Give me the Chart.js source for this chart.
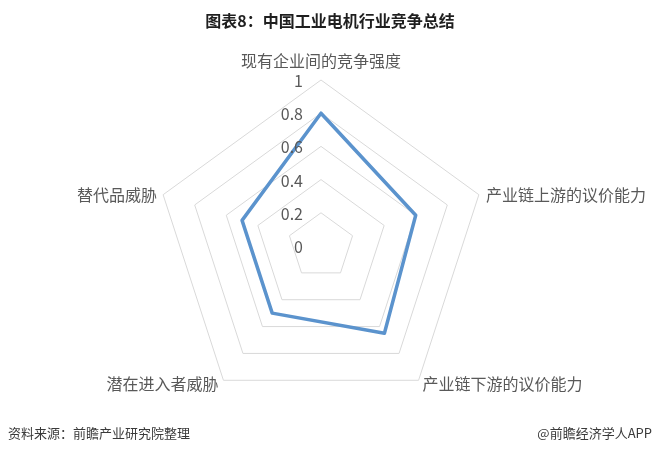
<!DOCTYPE html>
<html>
<head>
<meta charset="utf-8">
<script src="https://cdn.jsdelivr.net/npm/chart.js@4"></script>
<style>
  html, body { margin: 0; padding: 0; background: #ffffff; }
  #wrap { position: relative; width: 660px; height: 453px; overflow: hidden; background: #fff; }
  #c { position: absolute; left: 0; top: 0; }
  .t { position: absolute; white-space: nowrap; font-family: "Noto Sans CJK SC", "Noto Sans", sans-serif; }
  #title { left: 0; width: 660px; top: 9px; text-align: center; font-size: 16px; font-weight: bold; color: #1f1f1f; line-height: 22px; }
  #src { left: 8px; top: 424px; font-size: 13px; color: #3a3a3a; line-height: 18px; }
  #app { right: 8px; top: 424px; font-size: 13px; color: #3a3a3a; line-height: 18px; }
</style>
</head>
<body>
<div id="wrap">
  <canvas id="c" width="660" height="453"></canvas>
  <div class="t" id="title">图表8：中国工业电机行业竞争总结</div>
  <div class="t" id="src">资料来源：前瞻产业研究院整理</div>
  <div class="t" id="app">@前瞻经济学人APP</div>
</div>
<script>
const categories = ["现有企业间的竞争强度", "产业链上游的议价能力", "产业链下游的议价能力", "潜在进入者威胁", "替代品威胁"];
const seriesValues = [0.8, 0.6, 0.65, 0.5, 0.5];
const tickLabels = ["0", "0.2", "0.4", "0.6", "0.8", "1"];

const FONT = '"Noto Sans CJK SC", "Noto Sans", sans-serif';

const labelPlugin = {
  id: 'customLabels',
  afterDraw(chart) {
    const s = chart.scales.r;
    const ctx = chart.ctx;
    ctx.save();
    ctx.fillStyle = '#595959';
    // tick labels, left of the vertical axis
    ctx.font = '16px ' + FONT;
    ctx.textAlign = 'right';
    ctx.textBaseline = 'middle';
    s.ticks.forEach((t, i) => {
      const d = s.getDistanceFromCenterForValue(t.value);
      ctx.fillText(tickLabels[i] !== undefined ? tickLabels[i] : t.label, s.xCenter - 18, s.yCenter - d + 1);
    });
    // point (category) labels
    const place = [
      { dx: 0, dy: -19, align: 'center' },
      { dx: 7, dy: 0, align: 'left' },
      { dx: 4, dy: 4, align: 'left' },
      { dx: -5, dy: 4, align: 'right' },
      { dx: -6, dy: 0, align: 'right' }
    ];
    categories.forEach((lab, i) => {
      const p = s.getPointPosition(i, s.drawingArea);
      const o = place[i];
      ctx.textAlign = o.align;
      ctx.textBaseline = 'middle';
      ctx.fillText(lab, p.x + o.dx, p.y + o.dy);
    });
    ctx.restore();
  }
};

new Chart(document.getElementById('c'), {
  type: 'radar',
  data: {
    labels: categories,
    datasets: [{
      data: seriesValues,
      borderColor: '#5B93CD',
      borderWidth: 3.5,
      backgroundColor: 'rgba(0,0,0,0)',
      fill: false,
      pointRadius: 0,
      pointHoverRadius: 0,
      borderJoinStyle: 'round',
      tension: 0
    }]
  },
  options: {
    responsive: false,
    animation: false,
    layout: { padding: { left: 155, top: 80, right: 173, bottom: 41 } },
    plugins: { legend: { display: false }, tooltip: { enabled: false }, title: { display: false } },
    scales: {
      r: {
        min: 0,
        max: 1,
        ticks: { stepSize: 0.2, display: false },
        grid: { color: '#D9D9D9', lineWidth: 1 },
        angleLines: { display: false },
        pointLabels: { display: false }
      }
    }
  },
  plugins: [labelPlugin]
});
</script>
</body>
</html>
